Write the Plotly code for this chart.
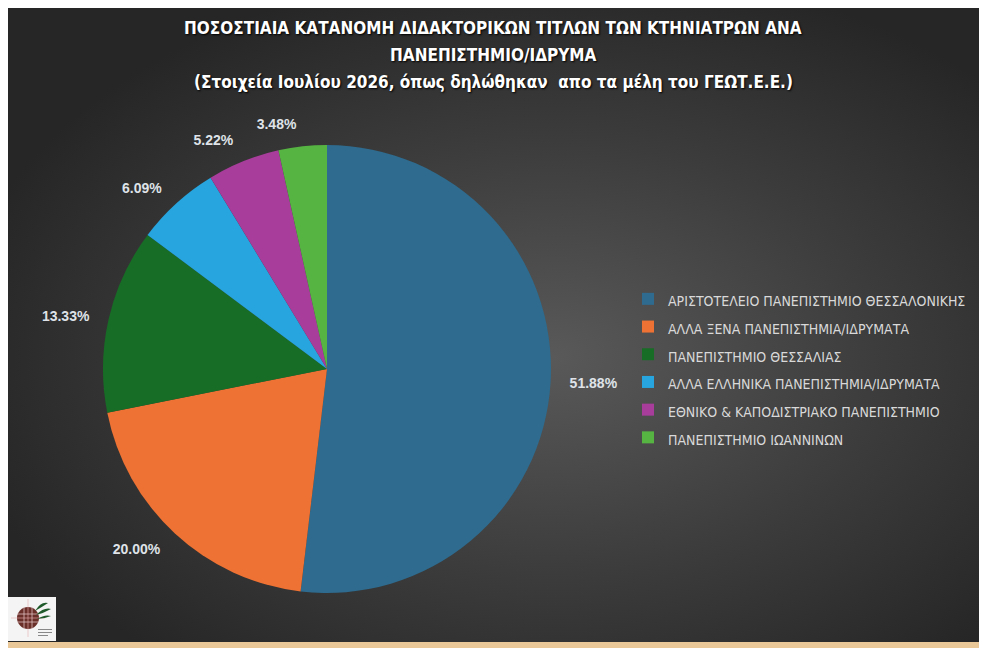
import base64
import plotly.graph_objects as go

# ---- data ----
labels = [
    "ΑΡΙΣΤΟΤΕΛΕΙΟ ΠΑΝΕΠΙΣΤΗΜΙΟ ΘΕΣΣΑΛΟΝΙΚΗΣ",
    "ΑΛΛΑ ΞΕΝΑ ΠΑΝΕΠΙΣΤΗΜΙΑ/ΙΔΡΥΜΑΤΑ",
    "ΠΑΝΕΠΙΣΤΗΜΙΟ ΘΕΣΣΑΛΙΑΣ",
    "ΑΛΛΑ ΕΛΛΗΝΙΚΑ ΠΑΝΕΠΙΣΤΗΜΙΑ/ΙΔΡΥΜΑΤΑ",
    "ΕΘΝΙΚΟ & ΚΑΠΟΔΙΣΤΡΙΑΚΟ ΠΑΝΕΠΙΣΤΗΜΙΟ",
    "ΠΑΝΕΠΙΣΤΗΜΙΟ ΙΩΑΝΝΙΝΩΝ",
]
percentages = [51.88, 20.00, 13.33, 6.09, 5.22, 3.48]
colors = ["#2e6b8e", "#ee7233", "#186d26", "#27a5de", "#a83d9c", "#56b443"]

title_lines = [
    "ΠΟΣΟΣΤΙΑΙΑ ΚΑΤΑΝΟΜΗ ΔΙΔΑΚΤΟΡΙΚΩΝ ΤΙΤΛΩΝ ΤΩΝ ΚΤΗΝΙΑΤΡΩΝ ΑΝΑ",
    "ΠΑΝΕΠΙΣΤΗΜΙΟ/ΙΔΡΥΜΑ",
    "(Στοιχεία Ιουλίου 2026, όπως δηλώθηκαν  απο τα μέλη του ΓΕΩΤ.Ε.Ε.)",
]

# the page shows the figure with an 8px body margin at top/left
OFF = 8
W, H = 987 - OFF, 648 - OFF


def px(x):
    return (x - OFF) / W


def py(y):
    return 1 - (y - OFF) / H


# ---- background images (svg) ----
bg_svg = """<svg xmlns='http://www.w3.org/2000/svg' width='973' height='634' viewBox='0 0 973 634' preserveAspectRatio='none'>
<defs><radialGradient id='g' cx='0.56' cy='0.55' r='0.62' gradientUnits='objectBoundingBox'>
<stop offset='0' stop-color='#595959'/><stop offset='0.55' stop-color='#3c3c3c'/><stop offset='1' stop-color='#262626'/></radialGradient></defs>
<rect width='973' height='634' fill='url(#g)'/></svg>"""

logo_svg = """<svg xmlns='http://www.w3.org/2000/svg' width='48' height='44' viewBox='0 0 48 44'>
<rect width='48' height='44' fill='#f4f4f4'/>
<circle cx='20' cy='21' r='11' fill='#6b2f2a'/>
<g stroke='#e8d0d0' stroke-width='0.7' fill='none'>
<line x1='9' y1='17' x2='31' y2='17'/><line x1='9' y1='25' x2='31' y2='25'/>
<line x1='16' y1='10' x2='16' y2='32'/><line x1='24' y1='10' x2='24' y2='32'/></g>
<g stroke='#e8b0b0' stroke-width='0.6'><line x1='20' y1='2' x2='20' y2='40'/><line x1='3' y1='21' x2='37' y2='21'/></g>
<path d='M27 14 Q33 4 40 6 Q34 10 27 14Z' fill='#1f5a2a'/>
<path d='M28 18 Q36 10 43 12 Q36 16 28 18Z' fill='#1f5a2a'/>
<path d='M29 22 Q37 17 43 19 Q36 22 29 22Z' fill='#1f5a2a'/>
<g fill='#888'><rect x='30' y='32' width='14' height='1'/><rect x='30' y='35' width='14' height='1'/><rect x='30' y='38' width='10' height='1'/></g>
</svg>"""


def data_uri(svg):
    return "data:image/svg+xml;base64," + base64.b64encode(svg.encode("utf-8")).decode("ascii")


legend_names = ["<span style='font-size:14px'>%s</span>" % l for l in labels]

# pie geometry (window px): centre (327, 369), radius 224
CX, CY, R = 327, 369, 224
RL = R + 15  # radius of the invisible label ring

fig = go.Figure()
fig.add_trace(
    go.Pie(
        labels=legend_names,
        values=percentages,
        sort=False,
        direction="clockwise",
        rotation=0,
        marker=dict(colors=colors, line=dict(width=0)),
        textinfo="none",
        domain=dict(x=[px(CX - R), px(CX + R)], y=[py(CY + R), py(CY - R)]),
        hoverinfo="label+percent",
    )
)
fig.add_trace(
    go.Pie(
        labels=legend_names,
        values=percentages,
        sort=False,
        direction="clockwise",
        rotation=0,
        marker=dict(colors=["rgba(0,0,0,0)"] * len(labels), line=dict(width=0)),
        texttemplate="%{value:.2f}%",
        textposition="outside",
        textfont=dict(family="Liberation Sans, Arial, sans-serif", size=14, color="#dfe3e8", weight="bold"),
        domain=dict(x=[px(CX - RL), px(CX + RL)], y=[py(CY + RL), py(CY - RL)]),
        hoverinfo="skip",
        showlegend=False,
    )
)

title_font = dict(
    family="Liberation Sans Narrow, DejaVu Sans Condensed, Arial Narrow, sans-serif",
    size=17,
    color="#ffffff",
    weight="bold",
    shadow="1px 1px 2px #000000",
)
annotations = []
for line, yy in zip(title_lines, [28, 55, 82]):
    annotations.append(
        dict(
            text=line,
            x=px(493),
            y=py(yy),
            xref="paper",
            yref="paper",
            xanchor="center",
            yanchor="middle",
            showarrow=False,
            font=title_font,
        )
    )

fig.update_layout(
    width=W,
    height=H,
    margin=dict(l=0, r=0, t=0, b=0),
    paper_bgcolor="#ebc898",
    plot_bgcolor="rgba(0,0,0,0)",
    annotations=annotations,
    showlegend=True,
    legend=dict(
        x=px(628),
        y=py(280),
        xanchor="left",
        yanchor="top",
        bgcolor="rgba(0,0,0,0)",
        font=dict(family="Liberation Sans Narrow, DejaVu Sans Condensed, Arial Narrow, sans-serif", size=19, color="#d9d9d9"),
    ),
    images=[
        dict(
            source=data_uri(bg_svg),
            xref="paper", yref="paper",
            x=0, y=1,
            sizex=973 / W, sizey=634 / H,
            xanchor="left", yanchor="top",
            sizing="stretch",
            layer="below",
        ),
        dict(
            source=data_uri(logo_svg),
            xref="paper", yref="paper",
            x=px(8), y=py(597),
            sizex=48 / W, sizey=44 / H,
            xanchor="left", yanchor="top",
            sizing="stretch",
            layer="above",
        ),
    ],
)

fig.write_html("out.html")
